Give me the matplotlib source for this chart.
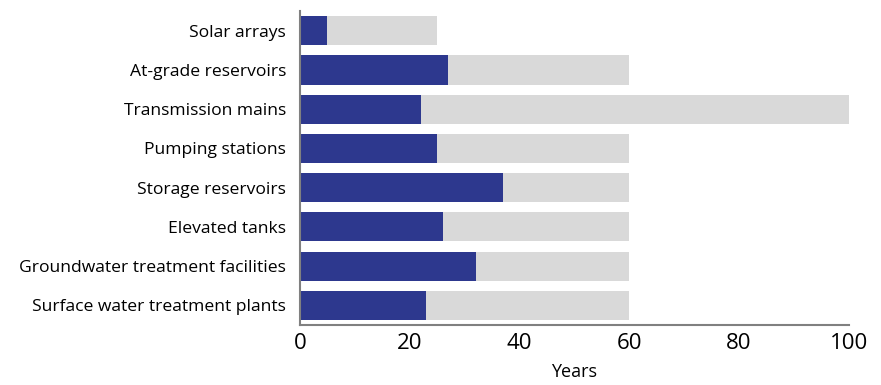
import matplotlib.pyplot as plt

# asset types, top to bottom as shown
categories = ["Solar arrays", "At-grade reservoirs", "Transmission mains",
              "Pumping stations", "Storage reservoirs", "Elevated tanks",
              "Groundwater treatment facilities", "Surface water treatment plants"]
avg_age = [5, 27, 22, 25, 37, 26, 32, 23]
useful_life = [25, 60, 100, 60, 60, 60, 60, 60]

plt.rcParams['font.family'] = ['Open Sans', 'DejaVu Sans']

fig = plt.figure(figsize=(8.81, 3.85), dpi=100)
ax = fig.add_axes([0.3405, 0.156, 0.623, 0.815])

# reverse so first category sits at the top
cats = categories[::-1]
age = avg_age[::-1]
life = useful_life[::-1]
pos = list(range(len(cats)))

ax.barh(pos, life, height=0.74, color="#d9d9d9")
ax.barh(pos, age, height=0.74, color="#2d388e")

ax.set_xlim(0, 100)
ax.set_ylim(-0.5, len(cats) - 0.5)
ax.set_yticks(pos)
ax.set_yticklabels(cats, fontsize=12.6)
ax.set_xticks([0, 20, 40, 60, 80, 100])
ax.tick_params(axis='x', labelsize=16, length=0, pad=6)
ax.tick_params(axis='y', length=0, pad=10)
ax.set_xlabel("Years", fontsize=13, labelpad=6)

for s in ["top", "right"]:
    ax.spines[s].set_visible(False)
for s in ["left", "bottom"]:
    ax.spines[s].set_color("#808080")
    ax.spines[s].set_linewidth(1.5)

fig.savefig("out.png", dpi=100)
